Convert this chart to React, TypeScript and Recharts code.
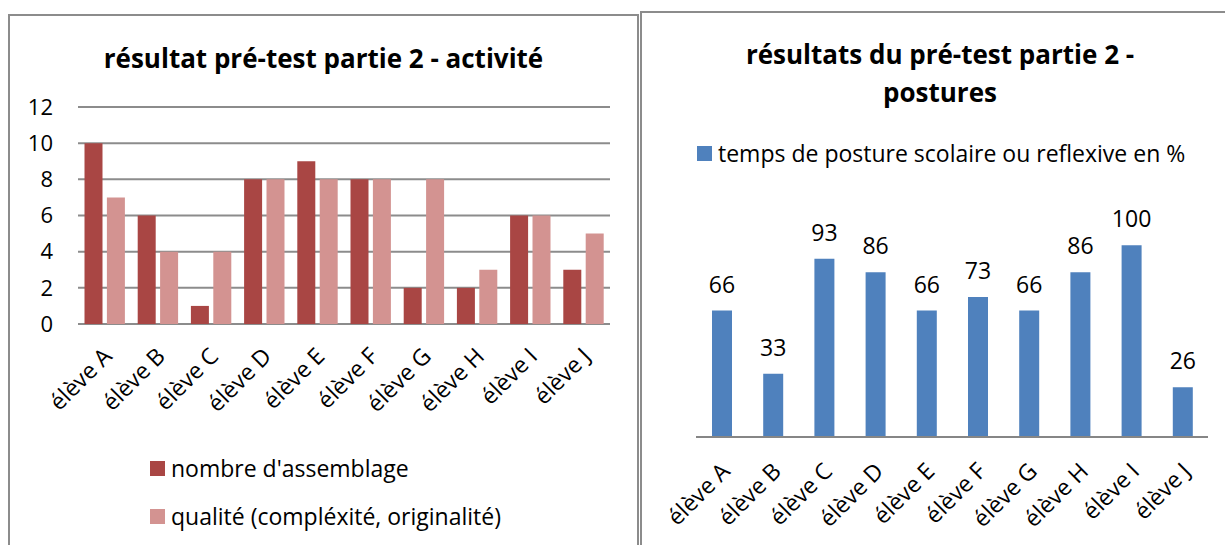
import React from "react";
import { BarChart, Bar, XAxis, YAxis, CartesianGrid, Legend, LabelList } from "recharts";

const FONT = "'Open Sans', sans-serif";

// data
const eleves = ["élève A", "élève B", "élève C", "élève D", "élève E", "élève F", "élève G", "élève H", "élève I", "élève J"];
const assemblages = [10, 6, 1, 8, 9, 8, 2, 2, 6, 3];
const qualite = [7, 4, 4, 8, 8, 8, 8, 3, 6, 5];
const posture = [66, 33, 93, 86, 66, 73, 66, 86, 100, 26];
const activiteTicks = [0, 2, 4, 6, 8, 10, 12];

const activiteData = eleves.map((name, i) => ({
  name,
  assemblages: assemblages[i],
  qualite: qualite[i],
}));
const postureData = eleves.map((name, i) => ({ name, posture: posture[i] }));

const DARK_RED = "#A94644";
const LIGHT_RED = "#D39391";
const BLUE = "#4F81BD";
const GREY = "#8C8C8C";

const SlantTick = (props: any) => {
  const { x, y, payload, fontSize, shift = 0 } = props;
  return (
    <g transform={`translate(${x + shift},${y})`}>
      <text
        x={0}
        y={0}
        dy="0.72em"
        textAnchor="end"
        transform="rotate(-45)"
        fontSize={fontSize}
        fontFamily={FONT}
        fill="#000"
      >
        {payload.value}
      </text>
    </g>
  );
};

const LegendList = (props: any) => {
  const { payload, fontSize, rowHeight } = props;
  return (
    <div style={{ fontFamily: FONT, fontSize, color: "#000" }}>
      {payload.map((p: any) => (
        <div key={p.value} style={{ display: "flex", alignItems: "center", height: rowHeight, whiteSpace: "nowrap" }}>
          <span style={{ width: 15, height: 15, background: p.color, marginRight: 6, flexShrink: 0 }} />
          <span>{p.value}</span>
        </div>
      ))}
    </div>
  );
};

const boxStyle: React.CSSProperties = {
  position: "absolute",
  border: "2px solid #8C8C8C",
  boxSizing: "border-box",
  background: "#fff",
  overflow: "visible",
};

const titleStyle: React.CSSProperties = {
  position: "absolute",
  fontFamily: FONT,
  fontWeight: 700,
  color: "#000",
  textAlign: "center",
  whiteSpace: "nowrap",
};

const App: React.FC = () => {
  return (
    <div style={{ position: "absolute", left: 0, top: 0, width: 1225, height: 545, overflow: "hidden", background: "#fff" }}>
      {/* left chart */}
      <div style={{ ...boxStyle, left: 8, top: 14, width: 631, height: 560 }}>
        <div style={{ ...titleStyle, left: -2, top: 24, width: 631, fontSize: 26, lineHeight: "36px" }}>
          résultat pré-test partie 2 - activité
        </div>
        <div style={{ position: "absolute", left: -2, top: -2 }}>
          <BarChart
            width={631}
            height={531}
            data={activiteData}
            margin={{ top: 93, right: 29, bottom: 161, left: 0 }}
            barCategoryGap={6.5}
            barGap={4.4}
          >
            <CartesianGrid vertical={false} stroke={GREY} strokeWidth={2} />
            <YAxis
              width={70}
              domain={[0, 12]}
              ticks={activiteTicks}
              axisLine={false}
              tickLine={false}
              tickSize={0}
              tickMargin={25}
              tick={{ fontSize: 22, fill: "#000", fontFamily: FONT }}
            />
            <XAxis
              dataKey="name"
              height={60}
              interval={0}
              axisLine={false}
              tickLine={false}
              tickSize={0}
              tickMargin={22}
              tick={<SlantTick fontSize={23} shift={-3} />}
            />
            <Legend
              layout="vertical"
              align="center"
              verticalAlign="middle"
              wrapperStyle={{ left: 142, top: 430, width: 470 }}
              content={<LegendList fontSize={23} rowHeight={48} />}
            />
            <Bar dataKey="assemblages" name="nombre d'assemblage" fill={DARK_RED} isAnimationActive={false} />
            <Bar dataKey="qualite" name="qualité (compléxité, originalité)" fill={LIGHT_RED} isAnimationActive={false} />
          </BarChart>
        </div>
      </div>

      {/* right chart */}
      <div style={{ ...boxStyle, left: 640, top: 11, width: 600, height: 560 }}>
        <div style={{ ...titleStyle, left: -2, top: 22, width: 600, fontSize: 26, lineHeight: "38px" }}>
          résultats du pré-test partie 2 -<br />postures
        </div>
        <div style={{ position: "absolute", left: -2, top: -2 }}>
          <BarChart
            width={600}
            height={534}
            data={postureData}
            margin={{ top: 196, right: 32, bottom: 48, left: 56 }}
            barSize={20}
          >
            <YAxis hide width={0} domain={[0, 120]} />
            <XAxis
              dataKey="name"
              height={60}
              interval={0}
              axisLine={{ stroke: "#868686", strokeWidth: 2 }}
              tickLine={false}
              tickSize={0}
              tickMargin={24}
              tick={<SlantTick fontSize={23} shift={-2} />}
            />
            <Legend
              layout="vertical"
              align="center"
              verticalAlign="middle"
              wrapperStyle={{ left: 57, top: 120, width: 540 }}
              content={<LegendList fontSize={23} rowHeight={44} />}
            />
            <Bar dataKey="posture" name="temps de posture scolaire ou reflexive en %" fill={BLUE} isAnimationActive={false}>
              <LabelList dataKey="posture" position="top" offset={18} fontSize={23} fill="#000" fontFamily={FONT} />
            </Bar>
          </BarChart>
        </div>
      </div>
    </div>
  );
};

export default App;
